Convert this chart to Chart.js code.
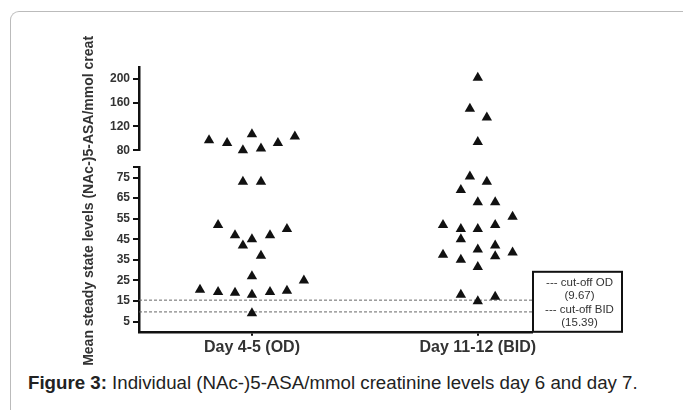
<!DOCTYPE html>
<html>
<head>
<meta charset="utf-8">
<script src="https://cdn.jsdelivr.net/npm/chart.js@4.4.1/dist/chart.umd.min.js"></script>
<style>
  body { margin: 0; width: 683px; height: 410px; overflow: hidden; background: #fff; font-family: 'Liberation Sans', Arial, sans-serif; }
  #frame { position: absolute; left: 10px; top: 11px; width: 700px; height: 420px; border-left: 1px solid #bbb; border-top: 1px solid #bbb; border-top-left-radius: 9px; }
  #wrap { position: absolute; left: 0; top: 0; width: 683px; height: 372px; }
  #caption { position: absolute; left: 28px; top: 372px; font-size: 18.7px; color: #222; white-space: nowrap; }
</style>
</head>
<body>
<div id="frame"></div>
<div id="wrap"><canvas id="chart"></canvas></div>
<div id="caption"><b>Figure 3:</b> Individual (NAc-)5-ASA/mmol creatinine levels day 6 and day 7.</div>
<script>
// groups on the x axis (1 and 2), points are spread a little around them
const categories = ['Day 4-5 (OD)', 'Day 11-12 (BID)'];
const yTitle = 'Mean steady state levels (NAc-)5-ASA/mmol creat';

const odX = [0.81, 0.89, 1.0, 0.96, 1.04, 1.115, 1.19,
             0.96, 1.04, 0.85, 0.925, 1.0, 1.08, 1.155, 0.96, 1.04, 1.0, 1.23,
             0.77, 0.85, 0.925, 1.0, 1.08, 1.155, 1.0];
const odY = [97, 92, 107, 80, 83, 92, 103,
             73, 73, 52, 47, 45, 47, 50, 42, 37, 27, 25,
             20.5, 19.3, 19, 18, 19.3, 20, 9];

const bidX = [2.0, 1.965, 2.04, 2.0,
              1.965, 2.04, 1.925, 2.0, 2.077, 2.154, 1.846, 1.925, 2.0, 2.077,
              1.925, 2.077, 2.0, 1.846, 1.925, 2.077, 2.154, 2.0,
              1.925, 2.0, 2.077];
const bidY = [202, 150, 135, 94,
              75.5, 73, 69, 63, 63, 56, 52, 50, 50, 52,
              45, 42, 40, 37.5, 35, 36.7, 38.6, 31.5,
              18, 14.8, 17];

const cutoffs = [9.67, 15.39];
const cutoffLabels = ['cut-off OD', 'cut-off BID'];

const lowTicks = [5, 15, 25, 35, 45, 55, 65, 75, 80];
const highTicks = [80, 120, 160, 200];
const breakAt = 80;
const xRange = [0.5, 2.24];

function split(xs, ys, upper) {
    return xs.map((x, i) => ({ x: x, y: ys[i] }))
        .filter(p => upper ? p.y >= breakAt : p.y < breakAt);
}

function marks(data, axis) {
    return {
        data: data,
        yAxisID: axis,
        clip: false,
        pointStyle: 'triangle',
        pointRadius: 6,
        pointHoverRadius: 6,
        backgroundColor: '#111',
        borderColor: '#111',
        borderWidth: 0
    };
}

const cutLines = cutoffs.map(c => ({
    data: [{ x: xRange[0], y: c }, { x: xRange[1], y: c }],
    yAxisID: 'y',
    showLine: true,
    pointRadius: 0,
    borderColor: '#666',
    borderWidth: 1,
    borderDash: [3, 2]
}));

// boxed note on the right with the two cut-off values, and the long y title
const extras = {
    id: 'extras',
    afterDraw(chart) {
        const { ctx, chartArea } = chart;
        const left = chartArea.right + 1, w = 89, h = 60, top = chartArea.bottom - h;
        ctx.save();
        ctx.strokeStyle = '#111';
        ctx.lineWidth = 2;
        ctx.strokeRect(left, top, w, h);
        ctx.font = '11.5px "Liberation Sans", Arial, sans-serif';
        ctx.fillStyle = '#333';
        ctx.textAlign = 'center';
        ctx.textBaseline = 'middle';
        const lines = [];
        cutoffLabels.forEach((l, i) => lines.push('--- ' + l, '(' + cutoffs[i] + ')'));
        lines.forEach((t, i) => ctx.fillText(t, left + w / 2 + 2, top + 11 + i * 13.3));

        ctx.translate(89, (chartArea.top + chartArea.bottom) / 2 + 1.5);
        ctx.rotate(-Math.PI / 2);
        ctx.font = 'bold 14px "Liberation Sans", Arial, sans-serif';
        ctx.fillText(yTitle, 0, 0);
        ctx.restore();
    }
};

const axisLine = { display: true, color: '#111', width: 2.5 };
const tickMarks = { display: true, drawOnChartArea: false, drawTicks: true, tickLength: 6, color: '#111', lineWidth: 2 };
const tickFont = { size: 12, weight: 'bold' };

Chart.defaults.font.family = '"Liberation Sans", Arial, sans-serif';

new Chart(document.getElementById('chart'), {
    type: 'scatter',
    data: {
        datasets: [
            marks(split(odX, odY, false), 'y'),
            marks(split(odX, odY, true), 'yTop'),
            marks(split(bidX, bidY, false), 'y'),
            marks(split(bidX, bidY, true), 'yTop'),
            ...cutLines
        ]
    },
    options: {
        responsive: true,
        maintainAspectRatio: false,
        animation: false,
        layout: { padding: { top: 67, left: 107, right: 151, bottom: 13 } },
        plugins: {
            legend: { display: false },
            tooltip: { enabled: false }
        },
        scales: {
            x: {
                type: 'linear',
                min: xRange[0],
                max: xRange[1],
                border: axisLine,
                grid: { ...tickMarks, tickLength: 4 },
                afterBuildTicks: s => { s.ticks = [1, 2].map(v => ({ value: v })); },
                ticks: {
                    color: '#333',
                    padding: 2,
                    autoSkip: false,
                    maxRotation: 0,
                    font: { size: 16, weight: 'bold' },
                    callback: v => categories[v - 1]
                }
            },
            y: {
                type: 'linear',
                position: 'left',
                stack: 'broken',
                stackWeight: 164,
                min: 0,
                max: 80,
                border: axisLine,
                grid: tickMarks,
                afterBuildTicks: s => { s.ticks = lowTicks.map(v => ({ value: v })); },
                ticks: {
                    color: '#333',
                    padding: 3,
                    autoSkip: false,
                    font: tickFont,
                    callback: v => v === breakAt ? '' : v
                }
            },
            yGap: {
                type: 'linear',
                position: 'left',
                stack: 'broken',
                stackWeight: 17,
                border: { display: false },
                grid: { display: false },
                ticks: { display: false }
            },
            yTop: {
                type: 'linear',
                position: 'left',
                stack: 'broken',
                stackWeight: 83,
                min: 80,
                max: 220,
                border: axisLine,
                grid: tickMarks,
                afterBuildTicks: s => { s.ticks = highTicks.map(v => ({ value: v })); },
                ticks: {
                    color: '#333',
                    padding: 3,
                    autoSkip: false,
                    font: tickFont
                }
            }
        }
    },
    plugins: [extras]
});
</script>
</body>
</html>
